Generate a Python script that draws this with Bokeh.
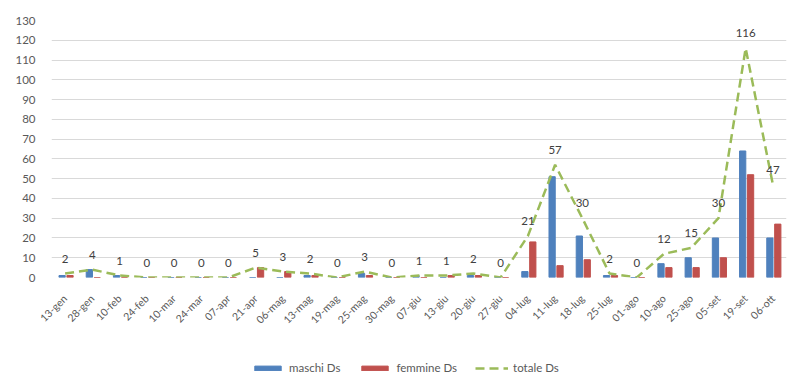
from bokeh.plotting import figure
from bokeh.layouts import column
from bokeh.models import (ColumnDataSource, FactorRange, FixedTicker, LabelSet,
                          Legend, LegendItem, Range1d)
from bokeh.transform import dodge
from bokeh.core.properties import value
from bokeh.embed import file_html
from bokeh.resources import INLINE

dates = ["13-gen", "28-gen", "10-feb", "24-feb", "10-mar", "24-mar", "07-apr",
         "21-apr", "06-mag", "13-mag", "19-mag", "25-mag", "30-mag", "07-giu",
         "13-giu", "20-giu", "27-giu", "04-lug", "11-lug", "18-lug", "25-lug",
         "01-ago", "10-ago", "25-ago", "05-set", "19-set", "06-ott"]
maschi = [1, 4, 1, 0, 0, 0, 0, 0, 0, 1, 0, 2, 0, 1, 0, 1, 0,
          3, 51, 21, 1, 0, 7, 10, 20, 64, 20]
femmine = [1, 0, 0, 0, 0, 0, 0, 5, 3, 1, 0, 1, 0, 0, 1, 1, 0,
           18, 6, 9, 1, 0, 5, 5, 10, 52, 27]
totale = [2, 4, 1, 0, 0, 0, 0, 5, 3, 2, 0, 3, 0, 1, 1, 2, 0,
          21, 57, 30, 2, 0, 12, 15, 30, 116, 47]
y_ticks = list(range(0, 131, 10))
series_names = ["maschi Ds", "femmine Ds", "totale Ds"]

FONT = "Lato"
TXT = "#595959"
BLUE, RED, GREEN = "#4F81BD", "#C0504D", "#9BBB59"

src = ColumnDataSource(dict(date=dates, m=maschi, f=femmine, t=totale,
                            lab=[str(v) for v in totale]))

p = figure(x_range=FactorRange(*dates), y_range=Range1d(0, 130),
           width=787, height=356, output_backend="svg", toolbar_location=None,
           min_border_left=51, min_border_right=1, min_border_top=20,
           min_border_bottom=79)
p.outline_line_color = None

p.vbar(x=dodge("date", -0.11, range=p.x_range), top="m", width=0.23,
       source=src, color=BLUE)
p.vbar(x=dodge("date", 0.18, range=p.x_range), top="f", width=0.23,
       source=src, color=RED)
p.line(x="date", y="t", source=src, line_color=GREEN, line_width=2.5,
       line_dash="9 5")

labels = LabelSet(x="date", y="t", text="lab", source=src, y_offset=15,
                  text_align="center", text_baseline="middle",
                  text_font=value(FONT), text_font_size="11.5px",
                  text_color="#404040")
p.add_layout(labels)

p.yaxis.ticker = FixedTicker(ticks=y_ticks)
for ax in (p.xaxis, p.yaxis):
    ax.axis_line_color = None
    ax.major_tick_line_color = None
    ax.minor_tick_line_color = None
    ax.major_label_text_color = TXT
    ax.major_label_text_font = FONT
p.yaxis.major_label_text_font_size = "11.5px"
p.yaxis.major_label_standoff = 10
p.xaxis.major_label_text_font_size = "10.5px"
p.xaxis.major_label_orientation = 0.785398
p.xaxis.major_label_standoff = 13

p.xgrid.grid_line_color = None
p.ygrid.grid_line_color = "#D9D9D9"
p.ygrid.grid_line_width = 1

# legend strip below the chart (dummy renderers placed far outside the view)
lg = figure(width=787, height=18, output_backend="svg", toolbar_location=None,
            x_axis_location=None, y_axis_location=None, min_border=0,
            x_range=Range1d(0, 1), y_range=Range1d(0, 1))
lg.outline_line_color = None
lg.grid.visible = False
r1 = lg.vbar(x=[-50], top=[-40], bottom=[-50], width=0.1, color=BLUE)
r2 = lg.vbar(x=[-50], top=[-40], bottom=[-50], width=0.1, color=RED)
r3 = lg.line(x=[-50, -49], y=[-50, -50], line_color=GREEN, line_width=2.5,
             line_dash="9 5")
legend = Legend(items=[LegendItem(label=series_names[0], renderers=[r1]),
                       LegendItem(label=series_names[1], renderers=[r2]),
                       LegendItem(label=series_names[2], renderers=[r3])],
                orientation="horizontal", location=(200, 0),
                glyph_width=33, glyph_height=6, label_height=12,
                label_standoff=5, spacing=18, padding=0, margin=0,
                border_line_color=None, background_fill_alpha=0,
                label_text_font=FONT, label_text_font_size="11.5px",
                label_text_color=TXT)
lg.add_layout(legend, "center")

layout = column(p, lg, spacing=0)
open("out.html", "w").write(file_html(layout, INLINE))
